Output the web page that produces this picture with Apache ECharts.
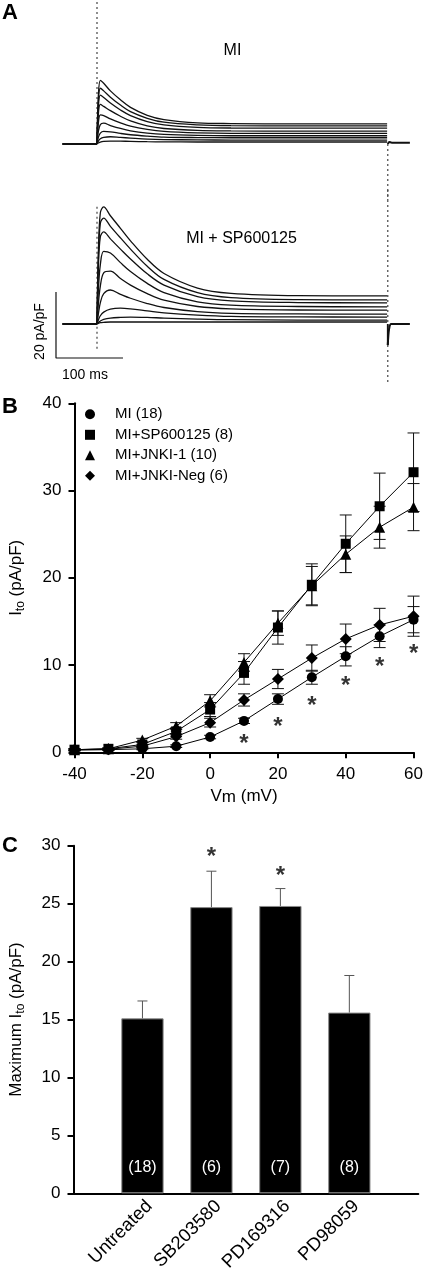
<!DOCTYPE html>
<html><head><meta charset="utf-8">
<script src="https://cdn.jsdelivr.net/npm/echarts@6/dist/echarts.min.js"></script>
<style>html,body{margin:0;padding:0;background:#fff}#c{width:426px;height:1274px}</style>
</head><body><div id="c"></div>
<script>
const FONT = '"Liberation Sans", Arial, Helvetica, sans-serif';

// ---------- Panel A: current traces (ms, pA/pF) ----------
const traceTimes = [0, 2, 5, 10, 20, 35, 50, 75, 100, 150, 200, 300, 433];
const miTraces = [
  [0, 14.5, 19.3, 18.4, 16.1, 13.4, 11.1, 8.7, 7.4, 6.4, 6.2, 6.1, 6.1],
  [0, 12.7, 16.9, 16.1, 14.2, 11.8, 9.8, 7.8, 6.6, 5.8, 5.55, 5.5, 5.5],
  [0, 11.1, 14.8, 14.1, 12.4, 10.3, 8.6, 6.8, 5.8, 5.05, 4.85, 4.8, 4.8],
  [0, 9.0, 12.0, 11.4, 10.1, 8.4, 7.0, 5.5, 4.7, 4.1, 3.95, 3.9, 3.9],
  [0, 6.3, 8.8, 8.6, 7.6, 6.4, 5.4, 4.4, 3.8, 3.35, 3.2, 3.2, 3.2],
  [0, 3.8, 5.9, 6.3, 5.6, 4.7, 4.0, 3.3, 2.9, 2.6, 2.5, 2.5, 2.5],
  [0, 2.0, 3.3, 3.8, 3.7, 3.2, 2.8, 2.4, 2.1, 1.95, 1.9, 1.9, 1.9],
  [0, 0.9, 1.6, 2.0, 2.2, 2.0, 1.8, 1.5, 1.35, 1.25, 1.2, 1.2, 1.2],
  [0, 0.3, 0.6, 0.8, 0.9, 0.85, 0.8, 0.7, 0.65, 0.6, 0.6, 0.6, 0.6]
];
const spTraces = [
  [0, 21.3, 33.7, 35.5, 32.8, 29.0, 25.2, 19.6, 15.3, 10.9, 9.3, 8.6, 8.5],
  [0, 19.3, 30.5, 32.1, 29.6, 26.1, 22.7, 17.5, 13.5, 9.5, 8.0, 7.4, 7.3],
  [0, 16.7, 26.5, 27.9, 25.8, 22.7, 19.7, 15.2, 11.8, 8.3, 7.0, 6.5, 6.4],
  [0, 10.0, 18.0, 22.0, 21.5, 18.6, 15.9, 12.3, 9.5, 6.7, 5.7, 5.3, 5.2],
  [0, 6.0, 11.5, 15.5, 16.0, 13.8, 11.8, 9.2, 7.2, 5.3, 4.6, 4.25, 4.2],
  [0, 3.0, 6.5, 9.2, 10.3, 9.0, 7.8, 6.2, 5.0, 3.75, 3.25, 3.05, 3.0],
  [0, 1.2, 2.5, 3.6, 4.5, 4.8, 4.6, 4.0, 3.4, 2.7, 2.3, 2.15, 2.1],
  [0, 0.4, 0.9, 1.4, 1.8, 2.0, 2.1, 2.0, 1.8, 1.5, 1.3, 1.2, 1.2],
  [0, 0.2, 0.4, 0.5, 0.6, 0.6, 0.6, 0.6, 0.6, 0.6, 0.6, 0.6, 0.6]
];
const preStart = -52, pulseEnd = 434;
const miTail = [[434, 0], [436, 0.6], [440, 0.4], [467, 0.4]];
const spTail = [[434, -6.4], [436, -1.5], [439, 0], [467, 0]];
const scaleBarMs = 100, scaleBarAmp = 20;

// ---------- Panel B: I-V relation ----------
const voltages = [-40, -30, -20, -10, 0, 10, 20, 30, 40, 50, 60];
const miMean   = [0.25, 0.3, 0.4, 0.7, 1.75, 3.6, 6.1, 8.6, 11.0, 13.3, 15.2];
const miSem    = [0.1, 0.1, 0.1, 0.15, 0.2, 0.3, 0.6, 0.8, 1.1, 1.3, 1.5];
const spMean   = [0.3, 0.4, 0.9, 2.4, 4.9, 9.1, 14.3, 19.2, 23.9, 28.2, 32.1];
const spSem    = [0.1, 0.1, 0.2, 0.4, 0.8, 1.3, 1.9, 2.4, 3.3, 3.8, 4.5];
const jnkMean  = [0.3, 0.4, 1.4, 3.0, 5.9, 10.3, 14.8, 19.1, 22.7, 25.8, 28.1];
const jnkSem   = [0.1, 0.1, 0.2, 0.4, 0.7, 1.0, 1.4, 2.2, 2.1, 2.4, 2.7];
const negMean  = [0.3, 0.35, 0.7, 1.8, 3.4, 6.0, 8.4, 10.8, 13.0, 14.6, 15.6];
const negSem   = [0.1, 0.1, 0.15, 0.3, 0.5, 0.7, 1.1, 1.5, 1.7, 1.9, 2.3];
const starV    = [10, 20, 30, 40, 50, 60];
const starBY   = [1.6, 3.5, 6.0, 8.3, 10.4, 11.9];
const legendNames = ['MI (18)', 'MI+SP600125 (8)', 'MI+JNKI-1 (10)', 'MI+JNKI-Neg (6)'];

// ---------- Panel C: maximum Ito ----------
const cCategories = ['Untreated', 'SB203580', 'PD169316', 'PD98059'];
const cMean = [15.1, 24.7, 24.8, 15.6];
const cSem  = [1.5, 3.1, 1.5, 3.2];
const cN    = ['(18)', '(6)', '(7)', '(8)'];
const cStarY = [null, 29.5, 27.9, null];

// ---------- helpers ----------
// Voltage axis is shifted internally (so the y axis is not drawn at 0 mV); labels show true mV.
const vShift = 100;
const vx = v => v + vShift;

function errRender(capHalf, upperOnly, color) {
  return function (params, api) {
    const x = api.value(0), y = api.value(1), e = api.value(2);
    const top = api.coord([x, y + e]);
    const bot = api.coord([x, upperOnly ? y : y - e]);
    const st = { stroke: color, lineWidth: 1 };
    const ch = [
      { type: 'line', shape: { x1: top[0], y1: top[1], x2: bot[0], y2: bot[1] }, style: st },
      { type: 'line', shape: { x1: top[0] - capHalf, y1: top[1], x2: top[0] + capHalf, y2: top[1] }, style: st }
    ];
    if (!upperOnly) ch.push({ type: 'line', shape: { x1: bot[0] - capHalf, y1: bot[1], x2: bot[0] + capHalf, y2: bot[1] }, style: st });
    return { type: 'group', children: ch };
  };
}
const zip = (xs, ys) => xs.map((x, i) => [x, ys[i]]);
const zip3 = (xs, ys, es) => xs.map((x, i) => [x, ys[i], es[i]]);

const series = [];
function traceSeries(traces, gi, tail, dotted) {
  traces.forEach(tr => {
    series.push({ type: 'line', xAxisIndex: gi, yAxisIndex: gi, data: zip(traceTimes, tr),
      showSymbol: false, smooth: 0.35, lineStyle: { color: '#111', width: 1.3 }, silent: true, z: 3 });
  });
  series.push({ type: 'line', xAxisIndex: gi, yAxisIndex: gi, data: [[preStart, 0], [0, 0]],
    showSymbol: false, lineStyle: { color: '#111', width: 1.8 }, silent: true });
  series.push({ type: 'line', xAxisIndex: gi, yAxisIndex: gi, data: tail,
    showSymbol: false, smooth: 0.3, lineStyle: { color: '#111', width: 2 }, silent: true });
  dotted.forEach(d => series.push({ type: 'line', xAxisIndex: gi, yAxisIndex: gi, data: d,
    showSymbol: false, lineStyle: { color: '#444', width: 1.2, type: [2, 3] }, silent: true, z: 1 }));
}
traceSeries(miTraces, 0, miTail, [[[0, 0], [0, 43.6]], [[pulseEnd, 0], [pulseEnd, -17]]]);
traceSeries(spTraces, 1, spTail, [[[0, 35.5], [0, -7.9]], [[pulseEnd, 40.6], [pulseEnd, -17.9]]]);
series.push({ type: 'line', xAxisIndex: 1, yAxisIndex: 1, data: [[pulseEnd, 0], [pulseEnd, -6.4]],
  showSymbol: false, lineStyle: { color: '#111', width: 1.8 }, silent: true });
// scale bar
const sbX = -61.2, sbY = -10.3;
series.push({ type: 'line', xAxisIndex: 1, yAxisIndex: 1,
  data: [[sbX, sbY + scaleBarAmp], [sbX, sbY], [sbX + scaleBarMs, sbY]],
  showSymbol: false, lineStyle: { color: '#111', width: 1.2 }, silent: true });

// Panel B series
const bSets = [
  { name: legendNames[0], mean: miMean, sem: miSem, symbol: 'circle', size: 10 },
  { name: legendNames[1], mean: spMean, sem: spSem, symbol: 'rect', size: 10 },
  { name: legendNames[2], mean: jnkMean, sem: jnkSem, symbol: 'triangle', size: 11 },
  { name: legendNames[3], mean: negMean, sem: negSem, symbol: 'diamond', size: 12 }
];
const vX = voltages.map(vx);
bSets.forEach(s => {
  series.push({ type: 'custom', xAxisIndex: 2, yAxisIndex: 2, renderItem: errRender(6, false, '#111'),
    data: zip3(vX, s.mean, s.sem), encode: { x: 0, y: 1 }, z: 2, silent: true });
  series.push({ type: 'line', name: s.name, xAxisIndex: 2, yAxisIndex: 2, data: zip(vX, s.mean),
    symbol: s.symbol, symbolSize: s.size, itemStyle: { color: '#000' },
    lineStyle: { color: '#000', width: 1 }, z: 4, silent: true });
});
const starLabel = { show: true, formatter: '*', position: 'inside', offset: [0, 6], fontSize: 24, fontWeight: 'bold', color: '#000', fontFamily: FONT };
series.push({ type: 'scatter', xAxisIndex: 2, yAxisIndex: 2, data: zip(starV.map(vx), starBY), symbolSize: 0,
  label: starLabel, silent: true });

// Panel C series
const cX = cCategories.map((_, i) => i + 1);
series.push({ type: 'bar', xAxisIndex: 3, yAxisIndex: 3, data: zip(cX, cMean), barWidth: 42.3,
  itemStyle: { color: '#000', borderColor: '#8a8a8a', borderWidth: 1 },
  label: { show: true, position: 'insideBottom', distance: 18, color: '#fff', fontSize: 16, fontFamily: FONT,
    formatter: p => cN[p.dataIndex] }, silent: true });
series.push({ type: 'custom', xAxisIndex: 3, yAxisIndex: 3, renderItem: errRender(5, true, '#555'),
  data: zip3(cX, cMean, cSem), encode: { x: 0, y: 1 }, z: 3, silent: true });
series.push({ type: 'scatter', xAxisIndex: 3, yAxisIndex: 3,
  data: cX.map((x, i) => [x, cStarY[i]]).filter(d => d[1] != null), symbolSize: 0,
  label: starLabel, silent: true });

const mkLine = () => ({ show: true, onZero: false, lineStyle: { color: '#000', width: 2 } });
const mkTick = () => ({ show: true, length: 6, lineStyle: { color: '#000', width: 2 } });
const lab = { color: '#000', fontSize: 17, fontFamily: FONT };
const nameRich = {
  n: { fontSize: 17, fontFamily: FONT, color: '#000', lineHeight: 20 },
  s: { fontSize: 12, fontFamily: FONT, color: '#000', lineHeight: 10, verticalAlign: 'bottom' },
  sm: { fontSize: 17, fontFamily: FONT, color: '#000', lineHeight: 10, verticalAlign: 'bottom' }
};

const option = {
  animation: false,
  backgroundColor: '#fff',
  textStyle: { fontFamily: FONT },
  grid: [
    { left: 53.45, width: 365.15, top: 0.12, height: 203.28 },
    { left: 53.45, width: 365.15, top: 188.7, height: 201.3 },
    { left: 66.7, width: 350, top: 403.3, height: 349 },
    { left: 66.7, width: 351.6, top: 845.7, height: 349.3 }
  ],
  xAxis: [
    { gridIndex: 0, type: 'value', min: -65, max: 480, show: false, axisLine: { onZero: false } },
    { gridIndex: 1, type: 'value', min: -65, max: 480, show: false, axisLine: { onZero: false } },
    { gridIndex: 2, type: 'value', position: 'bottom', min: vx(-40), max: vx(60), interval: 20, axisLine: mkLine(), axisTick: mkTick(),
      axisLabel: Object.assign({ margin: 14, formatter: v => String(v - vShift) }, lab), splitLine: { show: false },
      name: '{n|V}{sm|m}{n| (mV)}', nameLocation: 'middle', nameGap: 34, nameTextStyle: { rich: nameRich } },
    { gridIndex: 3, type: 'value', position: 'bottom', min: 0, max: 5, axisLine: mkLine(), axisTick: { show: false },
      splitLine: { show: false },
      axisLabel: { rotate: 45, margin: 10, fontSize: 18.5, color: '#000', fontFamily: FONT,
        customValues: cX.map(x => x + 0.1), formatter: v => cCategories[Math.round(v) - 1] || '' } }
  ],
  yAxis: [
    { gridIndex: 0, type: 'value', min: -18, max: 43.6, show: false, axisLine: { onZero: false } },
    { gridIndex: 1, type: 'value', min: -20, max: 41, show: false, axisLine: { onZero: false } },
    { gridIndex: 2, type: 'value', position: 'left', min: 0, max: 40, interval: 10, axisLine: mkLine(), axisTick: mkTick(),
      axisLabel: Object.assign({ margin: 13 }, lab), splitLine: { show: false },
      name: '{n|I}{s|to}{n| (pA/pF)}', nameLocation: 'middle', nameGap: 48, nameRotate: 90, nameTextStyle: { rich: nameRich } },
    { gridIndex: 3, type: 'value', position: 'left', min: 0, max: 30, interval: 5, axisLine: mkLine(), axisTick: mkTick(),
      axisLabel: Object.assign({ margin: 13 }, lab), splitLine: { show: false },
      name: '{n|Maximum I}{s|to}{n| (pA/pF)}', nameLocation: 'middle', nameGap: 47, nameRotate: 90, nameTextStyle: { rich: nameRich } }
  ],
  legend: {
    orient: 'vertical', left: 80, top: 401.3, itemWidth: 10, itemHeight: 10, itemGap: 4.5,
    selectedMode: false,
    textStyle: { color: '#000', fontSize: 15, fontFamily: FONT, lineHeight: 16, padding: [0, 0, 0, 15] },
    data: [
      { name: legendNames[0], icon: 'circle' },
      { name: legendNames[1], icon: 'rect' },
      { name: legendNames[2], icon: 'triangle' },
      { name: legendNames[3], icon: 'diamond' }
    ]
  },
  graphic: [
    { type: 'text', x: 2, y: 2, style: { text: 'A', font: 'bold 22px ' + FONT, fill: '#000' } },
    { type: 'text', x: 2, y: 396, style: { text: 'B', font: 'bold 22px ' + FONT, fill: '#000' } },
    { type: 'text', x: 2, y: 834.5, style: { text: 'C', font: 'bold 22px ' + FONT, fill: '#000' } },
    { type: 'text', x: 232.5, y: 51, style: { text: 'MI', font: '16px ' + FONT, fill: '#000', align: 'center', verticalAlign: 'middle' } },
    { type: 'text', x: 241.5, y: 239, style: { text: 'MI + SP600125', font: '16px ' + FONT, fill: '#000', align: 'center', verticalAlign: 'middle' } },
    { type: 'text', x: 85, y: 375, style: { text: '100 ms', font: '14px ' + FONT, fill: '#000', align: 'center', verticalAlign: 'middle' } },
    { type: 'text', x: 40, y: 331.5, rotation: Math.PI / 2, style: { text: '20 pA/pF', font: '14px ' + FONT, fill: '#000', align: 'center', verticalAlign: 'middle' } }
  ],
  series
};
const chart = echarts.init(document.getElementById('c'), null, { renderer: 'canvas' });
chart.setOption(option);
</script>
</body></html>
